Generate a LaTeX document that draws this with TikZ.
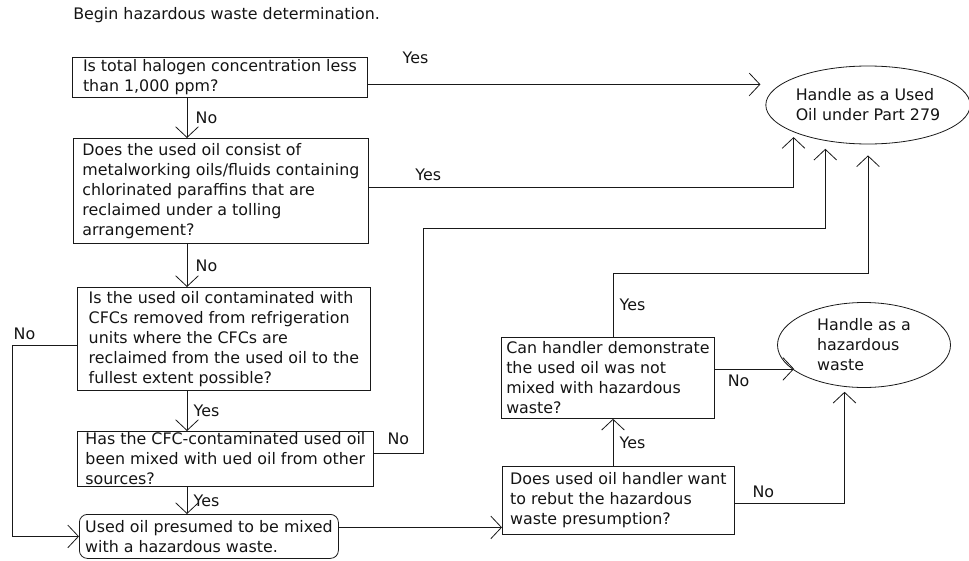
\documentclass[tikz,border=0pt]{standalone}
\usepackage{fontspec}
\setmainfont{DejaVu Sans}
\usepackage{xcolor}
\usepackage{tikz}
\usetikzlibrary{arrows.meta,positioning,shapes.geometric}
\definecolor{figureline}{RGB}{25,25,25}
\definecolor{figuretext}{RGB}{20,20,20}
\newlength{\figurepx}
\setlength{\figurepx}{0.75pt}

\begin{document}
\begin{tikzpicture}[
    x=0.75pt, y=-0.75pt,
    font=\fontsize{11.9}{15}\selectfont, text=figuretext,
    box/.style={draw=figureline, anchor=north west, align=left, inner sep=0pt, line width=0.6pt},
    endbox/.style={draw=figureline, ellipse, align=left, inner sep=0pt, line width=0.6pt},
    arrow/.style={-{Straight Barb[length=8pt, width=17pt]}, draw=figureline, line width=0.6pt},
    lbl/.style={inner sep=1pt}
  ]
    \useasboundingbox (0,0) rectangle (969,560);
    \node[anchor=west, inner sep=0pt] (title) at (73,15) {Begin hazardous waste determination.};

    % left column of questions
    \node[box, minimum width=295\figurepx, minimum height=40\figurepx] (halogen) at (72,57)
      {Is total halogen concentration less\\than 1,000 ppm?};
    \node[box, minimum width=295\figurepx, minimum height=105\figurepx] (tolling) at (73,138)
      {Does the used oil consist of\\metalworking oils/fluids containing\\chlorinated paraffins that are\\reclaimed under a tolling\\arrangement?};
    \node[box, minimum width=293\figurepx, minimum height=103\figurepx] (cfc) at (77,287)
      {Is the used oil contaminated with\\CFCs removed from refrigeration\\units where the CFCs are\\reclaimed from the used oil to the\\fullest extent possible?};
    \node[box, minimum width=296\figurepx, minimum height=55\figurepx] (mixed) at (77,431)
      {Has the CFC-contaminated used oil\\been mixed with ued oil from other\\sources?};
    \node[box, rounded corners=6pt, minimum width=259\figurepx, minimum height=44\figurepx] (presumed) at (79,514)
      {Used oil presumed to be mixed\\with a hazardous waste.};

    % right column
    \node[box, minimum width=232\figurepx, minimum height=68\figurepx] (rebut) at (502,466)
      {Does used oil handler want\\to rebut the hazardous\\waste presumption?};
    \node[box, minimum width=213\figurepx, minimum height=81\figurepx] (demonstrate) at (501,337)
      {Can handler demonstrate\\the used oil was not\\mixed with hazardous\\waste?};
    \node[endbox, minimum width=200\figurepx, minimum height=78\figurepx] (usedoil) at (868,105)
      {Handle as a Used\\Oil under Part 279};
    \node[endbox, minimum width=173\figurepx, minimum height=85\figurepx] (hazwaste) at (864,345)
      {Handle as a\\hazardous\\waste};

    \coordinate (spine) at (187,0);
    \coordinate (bendMixed) at (423,228);
    \coordinate (bendDemo) at (613,273);
    \coordinate (halogenOut) at ([yshift=-7\figurepx]halogen.east);
    \coordinate (presumedOut) at ([yshift=9\figurepx]presumed.east);
    \coordinate (demoOut) at ([yshift=9\figurepx]demonstrate.east);

    \draw[arrow] (spine |- halogen.south) -- node[lbl, right=7\figurepx] {No} (spine |- tolling.north);
    \draw[arrow] (spine |- tolling.south) -- node[lbl, right=7\figurepx] {No} (spine |- cfc.north);
    \draw[arrow] (spine |- cfc.south) -- node[lbl, right=5\figurepx] {Yes} (spine |- mixed.north);
    \draw[arrow] (spine |- mixed.south) -- node[lbl, right=5\figurepx] {Yes} (spine |- presumed.north);
    \draw[arrow] ([yshift=-6\figurepx]cfc.west) -- ++(-65,0) node[lbl, anchor=south west, yshift=3\figurepx] {No} |- (presumed.west);

    \draw[arrow, shorten >=5\figurepx] (halogenOut) -- node[lbl, pos=0.12, above=19\figurepx] {Yes} (halogenOut -| usedoil.west);
    \draw[arrow, shorten >=5\figurepx] ([yshift=4\figurepx]tolling.east) -| node[lbl, pos=0.07, above=4\figurepx] {Yes} (usedoil.200);
    \draw[arrow, shorten >=8\figurepx] ([yshift=6\figurepx]mixed.east) -| node[lbl, pos=0.25, above=6\figurepx] {No} (bendMixed) -| (usedoil.220);
    \draw[arrow, shorten >=11\figurepx] (bendDemo |- demonstrate.north) -- node[lbl, right=5\figurepx] {Yes} (bendDemo) -| (usedoil.south);

    \draw[arrow] (presumedOut) -- (presumedOut -| rebut.west);
    \draw[arrow] (bendDemo |- rebut.north) -- node[lbl, right=5\figurepx] {Yes} (bendDemo |- demonstrate.south);
    \draw[arrow] (demoOut) -- node[lbl, pos=0.3, below=4\figurepx] {No} (demoOut -| hazwaste.200);
    \draw[arrow, shorten >=5\figurepx] ([yshift=-3\figurepx]rebut.east) -| node[lbl, pos=0.13, above=4\figurepx] {No} (hazwaste.245);
\end{tikzpicture}
\end{document}
